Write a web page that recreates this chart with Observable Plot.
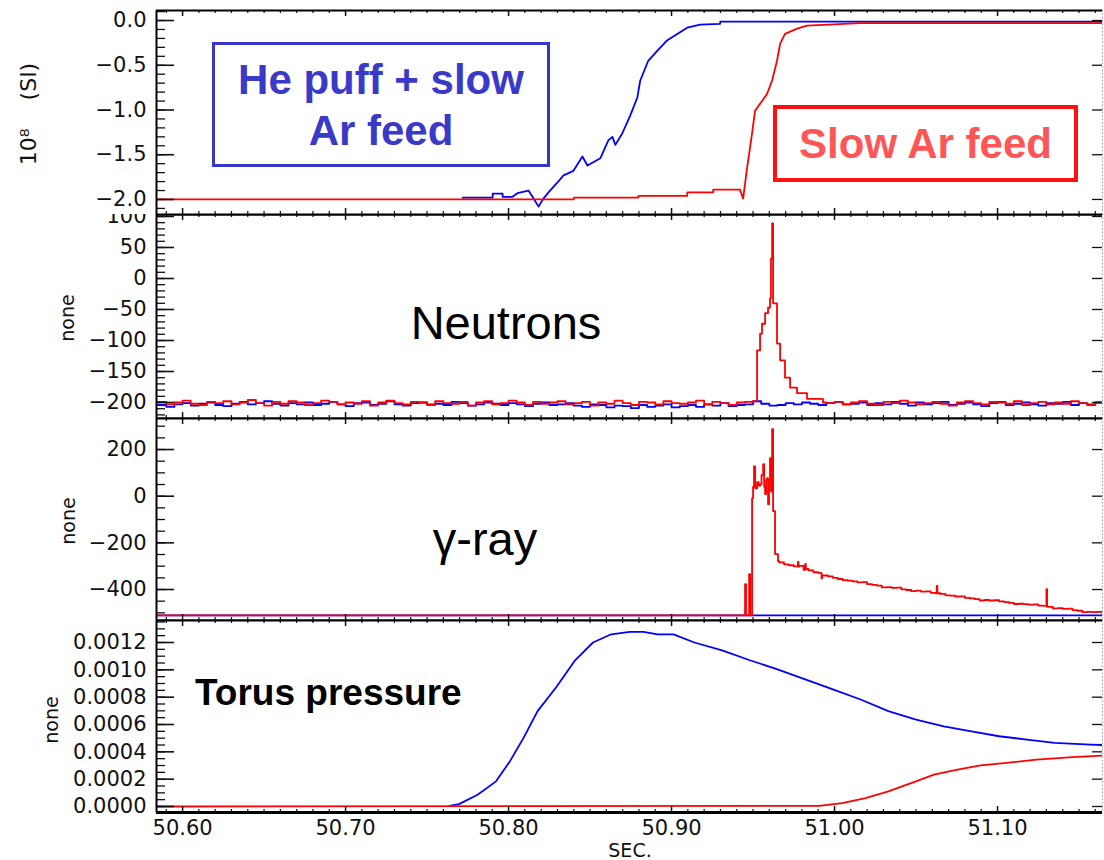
<!DOCTYPE html>
<html><head><meta charset="utf-8">
<script src="https://cdn.jsdelivr.net/npm/d3@7"></script>
<script src="https://cdn.jsdelivr.net/npm/@observablehq/plot@0.6"></script>
<style>
body{margin:0;background:#fff;}
#chart{position:relative;width:1104px;height:860px;overflow:hidden;background:#fff;}
#chart svg{position:absolute;left:0;overflow:visible;}
.box{position:absolute;box-sizing:border-box;display:flex;flex-direction:column;align-items:center;justify-content:center;text-align:center;font-family:"Liberation Sans",Arial,sans-serif;font-weight:bold;background:#fff;}
.lbl{position:absolute;white-space:pre;transform:translate(-50%,-50%);}
.rot{position:absolute;white-space:pre;transform:translate(-50%,-50%) rotate(-90deg);font-family:"DejaVu Sans",sans-serif;color:#111;}
</style></head><body><div id="chart"></div><script>
// ================= DATA =================
const xTicks = [50.60, 50.70, 50.80, 50.90, 51.00, 51.10];

// Panel 1: Ar feed signal, 10^8 (SI)
const feedTicks = [0, -0.5, -1.0, -1.5, -2.0];
const feedBlueT = [50.7718, 50.7902, 50.7903, 50.7963, 50.7964, 50.8024, 50.8055, 50.8122, 50.8147, 50.8184, 50.8214, 50.8245, 50.8300, 50.8337, 50.8398, 50.8453, 50.8484, 50.8563, 50.8612, 50.8637, 50.8655, 50.8698, 50.8747, 50.8790, 50.8808, 50.8857, 50.8912, 50.8974, 50.9035, 50.9096, 50.9176, 50.9298, 50.9299, 51.1644];
const feedBlueV = [-1.98, -1.98, -1.935, -1.935, -1.97, -1.97, -1.93, -1.90, -1.97, -2.08, -1.99, -1.92, -1.81, -1.73, -1.68, -1.52, -1.62, -1.54, -1.34, -1.30, -1.39, -1.26, -1.06, -0.86, -0.67, -0.45, -0.34, -0.22, -0.15, -0.08, -0.045, -0.037, -0.012, -0.012];
const feedRedT = [50.584, 50.840, 50.8401, 50.8796, 50.8797, 50.9096, 50.9097, 50.9255, 50.9256, 50.9420, 50.9439, 50.9464, 50.9494, 50.9512, 50.9586, 50.9617, 50.9647, 50.9666, 50.9696, 50.9770, 50.9831, 51.0156, 51.1644];
const feedRedV = [-2.0, -2.0, -1.98, -1.98, -1.96, -1.96, -1.92, -1.92, -1.89, -1.89, -1.99, -1.64, -1.26, -1.01, -0.82, -0.67, -0.45, -0.26, -0.15, -0.09, -0.056, -0.028, -0.028];

// Panel 2: Neutrons (baseline sampled every 5 ms)
const neutronTicks = [100, 50, 0, -50, -100, -150, -200];
const neutronStart = 50.585, neutronStep = 0.005;
const neutronBlueV = [
  -204,-207,-203,-201,-205,-202,-200,-204,-206,-202,
  -199,-203,-201,-198,-202,-205,-201,-203,-200,-204,
  -202,-199,-203,-206,-201,-200,-204,-202,-198,-203,
  -205,-201,-200,-203,-202,-204,-199,-201,-205,-203,
  -200,-202,-204,-201,-203,-206,-202,-200,-204,-203,
  -201,-205,-207,-203,-204,-208,-205,-206,-209,-204,
  -207,-205,-203,-208,-206,-204,-207,-203,-205,-201,
  -206,-204,-203,-198,-202,-205,-204,-201,-203,-200,
  -202,-204,-201,-199,-203,-202,-200,-204,-201,-203,
  -199,-202,-205,-200,-203,-201,-199,-204,-202,-200,
  -203,-206,-201,-199,-204,-202,-200,-203,-205,-201,
  -202,-199,-204,-201,-203,-200,-202];
const neutronRedPreV = [
  -199,-203,-200,-197,-202,-204,-199,-201,-198,-203,
  -200,-196,-201,-205,-199,-202,-198,-200,-204,-201,
  -197,-199,-203,-200,-202,-198,-205,-200,-197,-201,
  -203,-199,-200,-204,-198,-201,-202,-199,-205,-200,
  -198,-203,-201,-197,-200,-204,-199,-202,-200,-198,
  -203,-201,-199,-205,-200,-202,-197,-201,-204,-199,
  -200,-203,-198,-201,-202,-200,-197,-203,-199,-201,
  -204,-200,-199];
const neutronRedPeakT = [50.9500, 50.9525, 50.9543, 50.9555, 50.9574, 50.9592, 50.9604, 50.9610, 50.9617, 50.9623, 50.9647, 50.9666, 50.9696, 50.9727, 50.9770, 50.9831, 50.9929];
const neutronRedPeakV = [-198, -116, -89, -73, -56, -47, -32, 32, 89, -40, -105, -132, -160, -176, -185, -194, -200];
const neutronRedPostStart = 50.995;
const neutronRedPostV = [
  -201,-199,-203,-200,-198,-202,-204,-199,-201,-197,
  -200,-203,-201,-199,-202,-205,-200,-198,-201,-203,
  -199,-200,-202,-198,-204,-201,-199,-203,-200,-202,
  -198,-201,-204,-200,-202];

// Panel 3: gamma-ray
const gammaTicks = [200, 0, -200, -400];
const gammaBlueT = [50.584, 51.1644];
const gammaBlueV = [-511, -511];
const gammaBurstT = [50.584, 50.9445, 50.9451, 50.9457, 50.9470, 50.9476, 50.9482, 50.9490, 50.9494, 50.9500,
  50.9506, 50.9513, 50.9525, 50.9535, 50.9543, 50.9552, 50.9562, 50.9568, 50.9574, 50.9580,
  50.9586, 50.9592, 50.9598, 50.9604, 50.9610, 50.9617, 50.9623, 50.9635, 50.9653];
const gammaBurstV = [-511, -511, -377, -511, -511, -334, -511, -511, -9, 40,
  128, 34, 60, 45, 51, 90, 137, 40, 9, 70,
  77, -34, 60, 163, 20, 287, -64, -248, -278];
// slow decay after the burst, sampled every 3 ms from 50.966 s
const gammaDecayStart = 50.966, gammaDecayStep = 0.003;
const gammaDecayV = [
  -284,-292,-296,-301,-299,-316,-318,-326,-329,-340,
  -344,-350,-355,-360,-362,-365,-369,-368,-377,-380,
  -383,-391,-390,-393,-392,-399,-402,-407,-405,-409,
  -408,-414,-416,-419,-425,-426,-430,-429,-436,-438,
  -441,-447,-445,-447,-446,-451,-454,-457,-462,-461,
  -463,-465,-464,-469,-470,-474,-481,-480,-483,-482,
  -488,-491,-497,-496,-497,-496,-500];
const gammaSpikeT = [50.9775, 50.9779, 50.9820, 50.9824, 50.9920, 50.9924, 51.0627, 51.0631, 51.1300, 51.1304];
const gammaSpikeV = [-282, -303, -290, -312, -352, -338, -385, -416, -398, -474];

// Panel 4: Torus pressure
const torusTicks = [0.0012, 0.0010, 0.0008, 0.0006, 0.0004, 0.0002, 0.0000];
const torusBlueT = [50.7638, 50.7696, 50.7810, 50.7923, 50.8008, 50.8092, 50.8178, 50.8290, 50.8405, 50.8518, 50.8630, 50.8744, 50.8828, 50.8914, 50.9012, 50.9140, 50.9310, 50.9480, 50.9650, 50.9820, 50.9990, 51.0160, 51.0330, 51.0500, 51.0670, 51.0840, 51.1010, 51.1180, 51.1350, 51.1570, 51.1644];
const torusBlueV = [0.000005, 0.000017, 0.0000857, 0.000184, 0.00033, 0.000502, 0.000698, 0.000869, 0.001065, 0.0012, 0.00126, 0.001278, 0.001278, 0.00126, 0.00126, 0.0012, 0.001143, 0.00107, 0.001004, 0.00093, 0.000857, 0.000783, 0.000698, 0.000636, 0.000587, 0.00055, 0.000514, 0.00049, 0.000465, 0.000453, 0.00045];
const torusRedT = [50.584, 50.9905, 51.0047, 51.0190, 51.0330, 51.0470, 51.0610, 51.0755, 51.0896, 51.1040, 51.1240, 51.1460, 51.1644];
const torusRedV = [0, 0.000005, 0.0000245, 0.000061, 0.00011, 0.000171, 0.000233, 0.000269, 0.000301, 0.000318, 0.000343, 0.000362, 0.000372];

// ================= BUILD =================
const BLUE = "#0000ff", RED = "#ff0000";
const X_DOMAIN = [50.584, 51.1644];
const W = 1104, ML = 156, MR = 2;
const zip = (t, v) => t.map((x, i) => ({t: x, v: v[i]}));
const grid = (start, step, vals) => vals.map((v, i) => ({t: start + i * step, v}));
const byT = (a, b) => a.t - b.t;

const neutronRed = [...grid(neutronStart, neutronStep, neutronRedPreV), ...zip(neutronRedPeakT, neutronRedPeakV), ...grid(neutronRedPostStart, neutronStep, neutronRedPostV)];
const gammaRed = [...zip(gammaBurstT, gammaBurstV), ...grid(gammaDecayStart, gammaDecayStep, gammaDecayV), ...zip(gammaSpikeT, gammaSpikeV)].sort(byT);

const xMinor = [];
for (let k = 5059; k <= 5116; k++) if (k % 10 !== 0) xMinor.push(k / 100);

function panel({top, innerH, yDomain, yMajor, minorStep, fmt, series, bottomAxis}) {
  const innerW = W - ML - MR;
  const yMinor = [];
  const k0 = Math.ceil(yDomain[0] / minorStep), k1 = Math.floor(yDomain[1] / minorStep);
  for (let k = k0; k <= k1; k++) yMinor.push(k * minorStep);
  const marks = [
    ...series.map(s => Plot.line(s.data, {x: "t", y: "v", stroke: s.color, strokeWidth: 1.8, curve: s.curve || "linear", clip: true})),
    Plot.ruleX([X_DOMAIN[1]], {stroke: "#999", strokeWidth: 1, strokeDasharray: "1.5,2"}),
    Plot.tickY(yMajor, {y: d => d, insetRight: innerW - 18, strokeWidth: 1.6}),
    Plot.tickY(yMinor, {y: d => d, insetRight: innerW - 9, strokeWidth: 1.3}),
    Plot.tickY(yMajor, {y: d => d, insetLeft: innerW - 10, strokeWidth: 1.3}),
    Plot.tickX(xTicks, {x: d => d, insetBottom: innerH - 6, strokeWidth: 1.5}),
    Plot.tickX(xTicks, {x: d => d, insetTop: innerH - 6, strokeWidth: 1.5}),
    Plot.tickX(xMinor, {x: d => d, insetBottom: innerH - 3, strokeWidth: 1.2}),
    Plot.tickX(xMinor, {x: d => d, insetTop: innerH - 3, strokeWidth: 1.2}),
    Plot.ruleX([X_DOMAIN[0]], {stroke: "#000", strokeWidth: 2}),
    Plot.ruleY([yDomain[1]], {stroke: "#000", strokeWidth: 2}),
    Plot.ruleY([yDomain[0]], {stroke: "#000", strokeWidth: bottomAxis ? 3 : 2}),
    Plot.axisY({ticks: yMajor, tickSize: 0, tickPadding: 10, tickFormat: fmt, label: null})
  ];
  if (bottomAxis) marks.push(Plot.axisX({ticks: xTicks, tickFormat: d => d.toFixed(2), tickSize: 0, tickPadding: 8, label: null}));
  const mb = bottomAxis ? 48 : 0;
  const svg = Plot.plot({
    width: W, height: innerH + mb,
    marginLeft: ML, marginRight: MR, marginTop: 0, marginBottom: mb,
    x: {domain: X_DOMAIN, axis: bottomAxis ? undefined : null},
    y: {domain: yDomain},
    style: {fontFamily: "DejaVu Sans, sans-serif", fontSize: "21px", color: "#111", background: "white", overflow: "visible"},
    marks
  });
  svg.style.top = top + "px";
  return svg;
}

const minus = s => s.replace("-", "\u2212");
const chart = document.getElementById("chart");

const p1 = panel({top: 10, innerH: 204, yDomain: [-2.168, 0.112], yMajor: feedTicks, minorStep: 0.1,
  fmt: d => minus(d.toFixed(1)).replace("\u22120.0", "0.0"),
  series: [{data: zip(feedBlueT, feedBlueV), color: BLUE}, {data: zip(feedRedT, feedRedV), color: RED}]});
const p2 = panel({top: 214, innerH: 204, yDomain: [-225.8, 103.2], yMajor: neutronTicks, minorStep: 10,
  fmt: d => minus(String(d)),
  series: [{data: grid(neutronStart, neutronStep, neutronBlueV), color: BLUE, curve: "step-after"}, {data: neutronRed, color: RED, curve: "step-after"}]});
const p3 = panel({top: 418, innerH: 202, yDomain: [-532.8, 333], yMajor: gammaTicks, minorStep: 50,
  fmt: d => minus(String(d)),
  series: [{data: zip(gammaBlueT, gammaBlueV), color: BLUE}, {data: gammaRed, color: RED, curve: "step-after"}]});
const p4 = panel({top: 620, innerH: 192, yDomain: [-0.0000439, 0.001361], yMajor: torusTicks, minorStep: 0.00005,
  fmt: d => d.toFixed(4),
  series: [{data: zip(torusBlueT, torusBlueV), color: BLUE}, {data: zip(torusRedT, torusRedV), color: RED}], bottomAxis: true});

chart.appendChild(p2); chart.appendChild(p3); chart.appendChild(p4); chart.appendChild(p1);

function addDiv(cls, text, css) {
  const d = document.createElement("div");
  d.className = cls; d.textContent = text; Object.assign(d.style, css);
  chart.appendChild(d); return d;
}
// axis titles
addDiv("rot", "10\u2078    (SI)", {left: "28px", top: "114px", fontSize: "22px"});
addDiv("rot", "none", {left: "67px", top: "318px", fontSize: "19px"});
addDiv("rot", "none", {left: "68px", top: "521px", fontSize: "19px"});
addDiv("rot", "none", {left: "51px", top: "720px", fontSize: "19px"});
addDiv("lbl", "SEC.", {left: "630px", top: "850px", fontSize: "19px", fontFamily: "DejaVu Sans, sans-serif", color: "#111"});

// annotation boxes
const b1 = addDiv("box", "", {left: "212px", top: "42px", width: "338px", height: "125px", border: "3.5px solid #3535c8", color: "#3a3ac8", fontSize: "42px", lineHeight: "51px"});
b1.innerHTML = "<div>He puff + slow</div><div>Ar feed</div>";
addDiv("box", "Slow Ar feed", {left: "773px", top: "105px", width: "305px", height: "77px", border: "4px solid #ff1010", color: "#ff5555", fontSize: "42px"});

// panel labels
addDiv("lbl", "Neutrons", {left: "506px", top: "322px", fontSize: "47px", fontFamily: "Liberation Sans, Arial, sans-serif", color: "#000"});
addDiv("lbl", "\u03B3-ray", {left: "485px", top: "538px", fontSize: "47px", fontFamily: "Liberation Sans, Arial, sans-serif", color: "#000"});
addDiv("lbl", "Torus pressure", {left: "195px", top: "693px", fontSize: "37px", fontWeight: "bold", fontFamily: "Liberation Sans, Arial, sans-serif", color: "#000", transform: "translate(0,-50%)"});
</script></body></html>
